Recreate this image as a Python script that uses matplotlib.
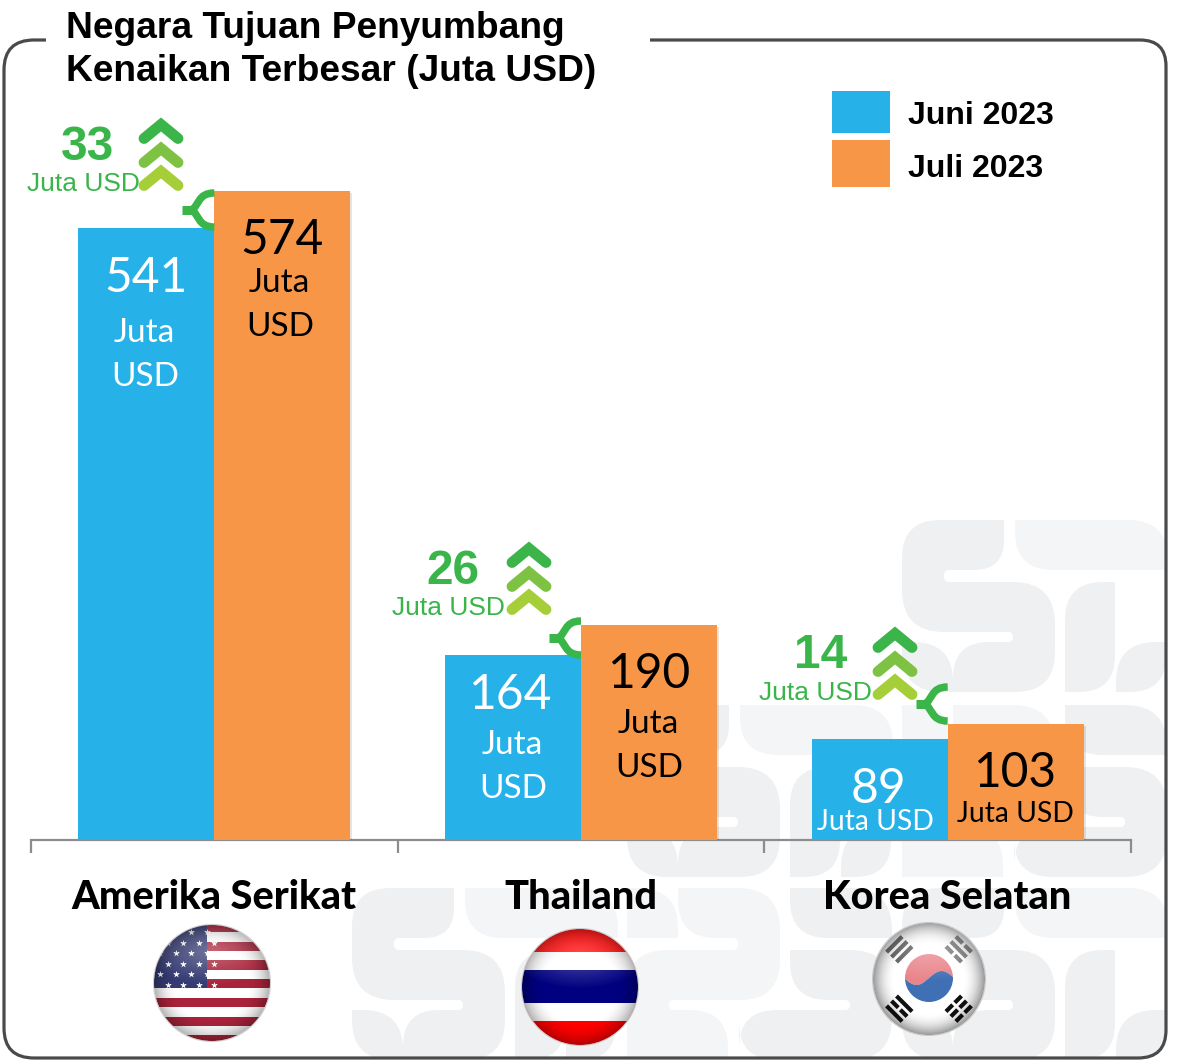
import numpy as np
import matplotlib
matplotlib.use("Agg")
import matplotlib.pyplot as plt
from matplotlib.patches import Circle, Rectangle, PathPatch
from matplotlib.path import Path
from matplotlib import patheffects as pe

negara = ["Amerika Serikat", "Thailand", "Korea Selatan"]
juni = [541, 164, 89]
juli = [574, 190, 103]
seri = ["Juni 2023", "Juli 2023"]
judul = "Negara Tujuan Penyumbang\nKenaikan Terbesar (Juta USD)"
satuan = "Juta USD"

BIRU = "#27b1e9"
ORANYE = "#f79646"
HIJAU = "#39b54a"
W, H = 1178, 1060
BASE = 840
SKALA = 649 / 574  # piksel per juta USD

fig = plt.figure(figsize=(W / 100, H / 100), dpi=100)


def px_axes(z):
    a = fig.add_axes([0, 0, 1, 1], zorder=z)
    a.set_axis_off()
    a.patch.set_alpha(0)
    return a


def rounded(pts):
    # polygon dengan sudut membulat, tiap titik (x, y, r)
    verts, codes = [], []
    n = len(pts)
    for i in range(n):
        p = np.array(pts[i][:2], float)
        r = pts[i][2]
        a = np.array(pts[i - 1][:2], float)
        b = np.array(pts[(i + 1) % n][:2], float)
        d1 = (a - p) / max(np.linalg.norm(a - p), 1e-6)
        d2 = (b - p) / max(np.linalg.norm(b - p), 1e-6)
        s = p + d1 * r
        e = p + d2 * r
        verts.append(s)
        codes.append(Path.MOVETO if i == 0 else Path.LINETO)
        verts += [p, e]
        codes += [Path.CURVE3, Path.CURVE3]
    verts.append(verts[0])
    codes.append(Path.CLOSEPOLY)
    return Path(verts, codes)


bg = px_axes(0)
ax = fig.add_axes([31 / W, (H - BASE) / H, 1100 / W, BASE / H], zorder=1)
fg = px_axes(2)

# bingkai
k = Path.CURVE3
frame_verts = [(46, 40), (34, 40), (4, 40), (4, 70), (4, 1028), (4, 1058), (34, 1058), (1138, 1058),
               (1166, 1058), (1166, 1030), (1166, 66), (1166, 40), (1140, 40), (650, 40)]
frame_codes = [Path.MOVETO, Path.LINETO, k, k, Path.LINETO, k, k, Path.LINETO, k, k, Path.LINETO, k, k, Path.LINETO]
frame = Path(frame_verts, frame_codes)
bg.add_patch(PathPatch(frame, fc="none", ec="#4a4a4a", lw=2.3, zorder=5))
clip = PathPatch(rounded([(4, 40, 30), (1166, 40, 26), (1166, 1058, 28), (4, 1058, 30)]), transform=bg.transData)

# watermark, satu unit pola selebar 550 piksel
GELAP = "#eff0f2"
TERANG = "#f4f5f7"
bentuk = [
    (GELAP, [(102, 0, 0), (102, 50, 30), (42, 50, 5), (42, 62, 5), (153, 62, 42), (153, 172, 40), (51, 172, 0),
             (51, 122, 36), (111, 122, 5), (111, 112, 5), (0, 112, 42), (0, 0, 38)]),
    (GELAP, [(0, 122, 0), (51, 122, 40), (51, 172, 0), (0, 172, 40)]),
    (TERANG, [(113, 0, 0), (266, 0, 40), (266, 50, 0), (113, 50, 38)]),
    (GELAP, [(163, 172, 0), (163, 62, 38), (213, 62, 0), (213, 172, 36)]),
    (GELAP, [(214, 172, 0), (214, 122, 40), (264, 122, 0), (264, 172, 36)]),
    (TERANG, [(275, 0, 0), (326, 0, 40), (326, 50, 0), (275, 50, 0)]),
    (TERANG, [(326, 0, 0), (428, 0, 42), (428, 112, 40), (317, 112, 5), (317, 122, 5), (376, 122, 38), (376, 172, 0),
              (275, 172, 0), (275, 62, 40), (386, 62, 5), (386, 50, 5), (326, 50, 38)]),
    (GELAP, [(438, 0, 0), (540, 0, 42), (540, 50, 0), (438, 50, 38)]),
    (GELAP, [(438, 62, 0), (540, 62, 42), (540, 172, 42), (387, 172, 38), (387, 122, 38), (498, 122, 5),
             (498, 112, 5), (438, 112, 38)]),
]
for ox, oy in [(352, 888), (902, 888), (627, 705), (902, 520)]:
    for warna, pts in bentuk:
        if oy == 520 and pts[0][0] > 270:
            continue
        pp = rounded([(x + ox, y + oy, r) for x, y, r in pts])
        pa = PathPatch(pp, fc=warna, ec="none", zorder=1)
        bg.add_patch(pa)
        pa.set_clip_path(clip)

# judul dan legenda
bg.text(66, 50, judul, fontsize=26.7, fontweight="bold", family="Liberation Sans", va="center", ha="left",
        linespacing=1.32, zorder=6)
for y0, tinggi, warna, nama, yt in [(91, 42, BIRU, seri[0], 116), (140, 47, ORANYE, seri[1], 169)]:
    bg.add_patch(Rectangle((832, y0), 58, tinggi, fc=warna, ec="none", zorder=6))
    bg.text(908, yt, nama, fontsize=23, fontweight="bold", family="Liberation Sans", va="center", zorder=6)

# batang
x = np.arange(len(negara))
lebar = 136 / (1100 / 3)
bayang = [pe.SimplePatchShadow(offset=(1.5, -1.5), alpha=0.13), pe.Normal()]
ax.bar(x - lebar / 2, juni, lebar, color=BIRU, path_effects=bayang, zorder=3)
ax.bar(x + lebar / 2, juli, lebar, color=ORANYE, path_effects=bayang, zorder=3)
ax.set_xlim(-0.5, 2.5)
ax.set_ylim(0, BASE / SKALA)
ax.patch.set_alpha(0)
for s in ["top", "left", "right"]:
    ax.spines[s].set_visible(False)
ax.spines["bottom"].set_color("#8c8c8c")
ax.spines["bottom"].set_linewidth(1.6)
ax.set_yticks([])
ax.set_xticks([-0.5, 0.5, 1.5, 2.5], ["", "", "", ""])
ax.tick_params(axis="x", which="major", length=9.5, width=1.6, color="#8c8c8c")
ax.set_xticks(x, negara, minor=True)
ax.tick_params(axis="x", which="minor", length=0, pad=28, labelsize=28.6)
for t in ax.get_xticklabels(minor=True):
    t.set_fontweight(900)
    t.set_family("Lato")

# label di dalam batang
FONT = "Lato"
NUM = 34.5
teks = [
    (juni[0], "white", (146, 278), [("Juta", 144, 333), ("USD", 145, 377)], 24),
    (juli[0], "black", (282, 240), [("Juta", 279, 283), ("USD", 280, 327)], 24),
    (juni[1], "white", (510, 695), [("Juta", 512, 745), ("USD", 513, 789)], 24),
    (juli[1], "black", (649, 674), [("Juta", 648, 724), ("USD", 649, 768)], 24),
    (juni[2], "white", (878, 789), [(satuan, 875, 822)], 20.3),
    (juli[2], "black", (1015, 773), [(satuan, 1015, 814)], 20.3),
]
for v, warna, (tx, ty), sat, fs in teks:
    fg.text(tx, ty, str(v), color=warna, fontsize=NUM, family=FONT, ha="center", va="center")
    for s, sx, sy in sat:
        fg.text(sx, sy, s, color=warna, fontsize=fs, family=FONT, ha="center", va="center")

# kenaikan, chevron dan kurung
naik_pos = [(88, 148, 83, 184, 161, 117), (453, 572, 448, 608, 529, 541), (821, 656, 815, 693, 895, 626)]
kurung_y = [210, 638, 704]
for i, (nx, ny, sx, sy, cx, top) in enumerate(naik_pos):
    fg.text(nx, ny, str(juli[i] - juni[i]), color=HIJAU, fontsize=34.5, fontweight="bold",
            family="Liberation Sans", ha="center", va="center")
    fg.text(sx, sy, satuan, color=HIJAU, fontsize=19, family="Liberation Sans", ha="center", va="center")
    for dy, warna in zip([47, 24, 0], ["#a6ce39", "#7dc242", "#3bb54a"]):
        y = top + dy + 7.5
        fg.plot([cx - 17, cx, cx + 17], [y + 14, y, y + 14], color=warna, lw=7.8,
                solid_capstyle="round", solid_joinstyle="miter")
    # kurung dari batang juni ke juli
    kx = x[i] * 1100 / 3 + 31 + 1100 / 6
    ym = kurung_y[i]
    pth = Path([(kx, ym - 17), (kx - 17, ym - 17), (kx - 15, ym - 4), (kx - 23, ym), (kx - 15, ym + 4),
                (kx - 17, ym + 17), (kx, ym + 17)],
               [Path.MOVETO, Path.CURVE4, Path.CURVE4, Path.CURVE4, Path.CURVE4, Path.CURVE4, Path.CURVE4])
    fg.add_patch(PathPatch(pth, fc="none", ec=HIJAU, lw=5.4, capstyle="butt"))
    fg.plot([kx - 32, kx - 20], [ym, ym], color=HIJAU, lw=6.5, solid_capstyle="butt")


def kilap(cx, cy, r, tepi=0.35):
    # bayangan tepi dan kilau bola
    n = 200
    yy, xx = np.mgrid[-1:1:n * 1j, -1:1:n * 1j]
    d = np.hypot(xx, yy)
    img = np.zeros((n, n, 4))
    img[..., 3] = np.clip((d - 0.6) / 0.4, 0, 1) ** 2 * tepi
    g = np.clip(1 - np.hypot(xx * 0.8, (yy + 0.55) * 1.6) / 0.95, 0, 1)
    atas_k = np.ones((n, n, 4))
    atas_k[..., 3] = g * 0.3
    cl = Circle((cx, cy), r, transform=fg.transData)
    im = fg.imshow(img, extent=(cx - r, cx + r, cy + r, cy - r), zorder=8, aspect="auto")
    im.set_clip_path(cl)
    im2 = fg.imshow(atas_k, extent=(cx - r, cx + r, cy + r, cy - r), zorder=9, aspect="auto")
    im2.set_clip_path(cl)
    fg.add_patch(Circle((cx, cy), r + 0.5, fc="none", ec="#bbbbbb", lw=0.8, alpha=0.7, zorder=10))


def garis(cx, cy, r, y0, y1, warna, x0=None, x1=None, z=5):
    x0 = cx - r if x0 is None else x0
    x1 = cx + r if x1 is None else x1
    p = Rectangle((x0, y0), x1 - x0, y1 - y0, fc=warna, ec="none", zorder=z)
    fg.add_patch(p)
    p.set_clip_path(Circle((cx, cy), r, transform=fg.transData))


# bendera AS
cx, cy, r = 212, 983, 58
garis(cx, cy, r, cy - r, cy + r, "white")
for j in range(7):
    y = 923 + j * 18.7
    garis(cx, cy, r, y, y + 9.3, "#a9233a", z=6)
garis(cx, cy, r, cy - r, 988, "#343a72", x1=207, z=7)
bx = []
by = []
for j in range(6):
    for m in range(4):
        bx.append(160 + m * 15.5 + (j % 2) * 7.5)
        by.append(932 + j * 10.5)
bint = fg.scatter(bx, by, marker="*", s=26, c="white", lw=0, zorder=7.5)
bint.set_clip_path(Circle((cx, cy), r, transform=fg.transData))
kilap(cx, cy, r, 0.3)

# bendera Thailand
cx, cy, r = 580, 987, 58
garis(cx, cy, r, cy - r, cy + r, "#ff0000")
garis(cx, cy, r, 952, 1021, "white", z=6)
garis(cx, cy, r, 970, 1003, "#000080", z=7)
kilap(cx, cy, r, 0.3)

# bendera Korea
cx, cy, r = 929, 979, 56
fg.add_patch(Circle((cx, cy), r, fc="white", ec="none", zorder=5))
tt = np.linspace(-1, 1, 60)
atas = np.column_stack([cx + tt * 25, cy - 1 - 7 * np.sin(tt * np.pi)])
lower = np.vstack([atas, [[cx + 25, cy + 25], [cx - 25, cy + 25]]])
upper = np.vstack([atas, [[cx + 25, cy - 26], [cx - 25, cy - 26]]])
for poly, warna in [(upper, "#e9848a"), (lower, "#3f70b4")]:
    p = plt.Polygon(poly, fc=warna, ec="none", zorder=6)
    fg.add_patch(p)
    p.set_clip_path(Circle((cx, cy - 1), 24, transform=fg.transData))
# trigram
for sudut, warna, putus in [(135, "#555555", [0, 0, 0]), (45, "#777777", [1, 0, 1]), (225, "#111111", [0, 1, 0]),
                            (315, "#111111", [1, 1, 1])]:
    a = np.deg2rad(sudut)
    ux, uy = np.cos(a), -np.sin(a)
    vx, vy = -uy, ux
    for b, ptg in zip([-7, 0, 7], putus):
        mx, my = cx + ux * (42 + b), cy + uy * (42 + b)
        segs = [(-11, -1.5), (1.5, 11)] if ptg else [(-11, 11)]
        for s0, s1 in segs:
            fg.plot([mx + vx * s0, mx + vx * s1], [my + vy * s0, my + vy * s1], color=warna, lw=3,
                    solid_capstyle="butt", zorder=7)
kilap(cx, cy, r, 0.4)

for a in [bg, fg]:
    a.set_xlim(0, W)
    a.set_ylim(H, 0)

fig.savefig("out.png", dpi=100)
